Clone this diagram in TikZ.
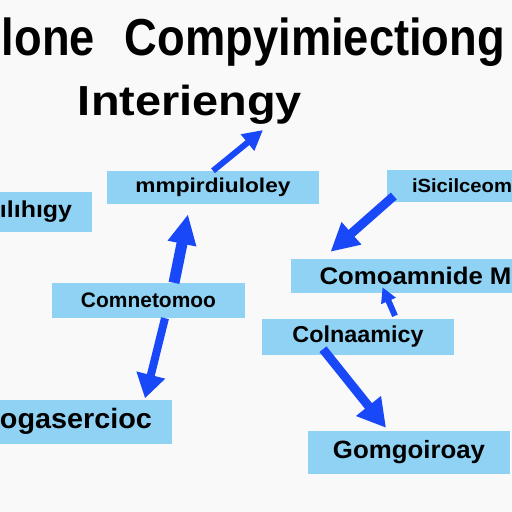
\documentclass[tikz,border=0pt]{standalone}
\usepackage{fontspec}
\setmainfont{Liberation Sans}
\usetikzlibrary{arrows.meta,calc}
\definecolor{bg}{HTML}{F9F9F9}
\definecolor{boxblue}{HTML}{8FD2F4}
\definecolor{arrblue}{HTML}{1848F8}
\newcommand{\fitw}[2]{\resizebox{#1pt}{\height}{#2}}
\newcommand{\fsz}[1]{\fontsize{#1}{#1}\selectfont\bfseries}
\begin{document}
\begin{tikzpicture}[x=1pt,y=-1pt,
  box/.style={rectangle,fill=boxblue,inner sep=0pt,text=black},
  ttl/.style={inner sep=0pt,anchor=base,text=black},
  arr/.style={draw=arrblue,line width=#1,-{Triangle[length=28pt,width=28pt]}},
  arr/.default=9pt]
\useasboundingbox (0,0) rectangle (512,512);
\clip (0,0) rectangle (512,512);
\fill[bg] (0,0) rectangle (512,512);
% titles
\node[ttl] (t1a) at (48.5,55) {\fsz{52}\fitw{93}{lone}};
\node[ttl] (t1b) at (315,55) {\fsz{52}\fitw{380}{Compyimiectiong}};
\node[ttl] (t2) at (190,115) {\fsz{42}\fitw{224}{Interiengy}};
\coordinate (t2tip) at (263,130);
% boxes
\node[box,minimum width=212pt,minimum height=33pt] (b1) at (213,187.5) {\fsz{20}\fitw{155}{mmpirdiuloley}};
\node[box,minimum width=112pt,minimum height=40pt] (b2) at (36,212) {\fsz{23}\fitw{72}{ılıhıgy}};
\node[box,minimum width=150pt,minimum height=32pt] (b3) at (462,186) {\fsz{19}\fitw{100}{iSicilceom}};
\node[box,minimum width=249pt,minimum height=34pt] (b4) at (415.5,276) {\fsz{24}\fitw{192}{Comoamnide M}};
\node[box,minimum width=193pt,minimum height=35pt] (b5) at (148.5,300.5) {\fsz{21}\fitw{135}{Comnetomoo}};
\node[box,minimum width=192pt,minimum height=36pt] (b6) at (358,337) {\fsz{23}\fitw{131}{Colnaamicy}};
\node[box,minimum width=192pt,minimum height=44pt] (b7) at (76,421.5) {\fsz{28}\fitw{152}{ogasercioc}};
\node[box,minimum width=202pt,minimum height=43pt] (b8) at (409,452.5) {\fsz{25}\fitw{152}{Gomgoiroay}};
% arrows
\draw[arr=6pt,-{Triangle[length=20pt,width=20pt]}] (b1.north) -- (t2tip);
\draw[arr=11pt,-{Triangle[length=30pt,width=27pt]}] ([xshift=25.5pt]b5.north) -- ([xshift=-25pt,yshift=-10pt]b1.south);
\draw[arr=9pt] ([xshift=7pt,yshift=-10pt]b3.west) -- ([xshift=-85pt,yshift=7pt]b4.north);
\draw[arr=6pt,-{Triangle[length=15pt,width=15pt]}] ([xshift=37pt,yshift=3pt]b6.north) -- ([xshift=-33pt,yshift=6pt]b4.south);
\draw[arr=8pt,-{Triangle[length=24pt,width=28pt]}] ([xshift=16.5pt]b5.south) -- ([xshift=69pt,yshift=1pt]b7.north);
\draw[arr=9pt,-{Triangle[length=28pt,width=30pt]}] ([xshift=-35pt,yshift=6pt]b6.south) -- ([xshift=-23pt,yshift=3pt]b8.north);
\end{tikzpicture}
\end{document}
